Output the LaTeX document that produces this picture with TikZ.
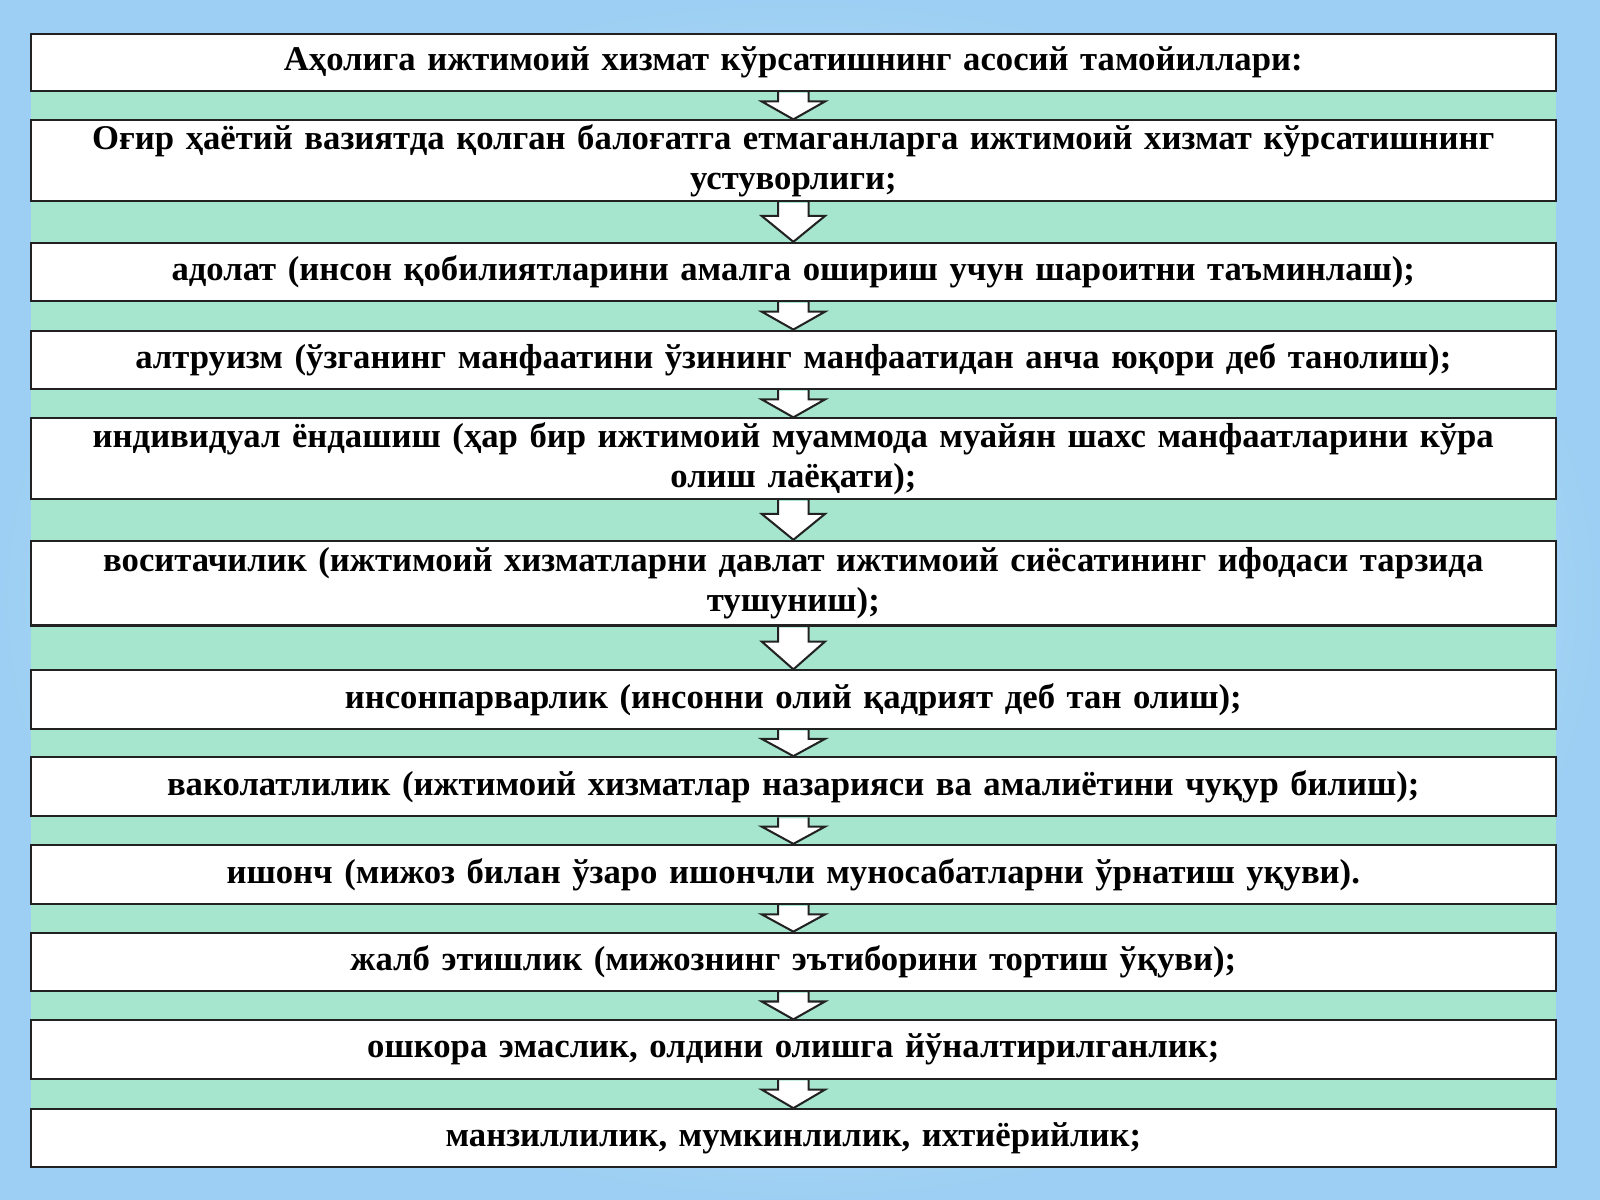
\documentclass[tikz,border=0pt]{standalone}
\usepackage{fontspec}
\setmainfont{Liberation Serif}
\usetikzlibrary{calc}
\definecolor{mint}{HTML}{A6E6CF}
\definecolor{sky}{HTML}{9CCFF3}
\definecolor{edge}{HTML}{222222}
\tikzset{
  box/.style={draw=edge,line width=1pt,fill=white,minimum width=747.5pt,text width=740pt,align=center,inner sep=0pt,
    font=\bfseries\fontsize{17}{19.5}\selectfont},
  arr/.style={draw=edge,line width=1pt,fill=white,line join=miter}
}
\newcommand{\myarr}[2]{%
  \coordinate (m) at ($(#1.south)!0.35!(#2.north)$);
  \fill[white] ($(#1.south)+(-15,1)$) -- ($(m)+(-15,0)$) -- ($(m)+(-31,0)$) -- (#2.north) -- ($(m)+(31,0)$) -- ($(m)+(15,0)$) -- ($(#1.south)+(15,1)$) -- cycle;
  \draw[arr,fill=none] ($(#1.south)+(-15,0)$) -- ($(m)+(-15,0)$) -- ($(m)+(-31,0)$) -- (#2.north) -- ($(m)+(31,0)$) -- ($(m)+(15,0)$) -- ($(#1.south)+(15,0)$);
}
\begin{document}
\begin{tikzpicture}[x=0.5pt,y=-0.5pt]
\useasboundingbox (0,0) rectangle (1568,1176);
\shade[inner color=white,outer color=sky] (0,0) rectangle (1568,1176);
\fill[mint] (30,89) rectangle (1525,1087);
\newcommand{\bx}[4]{\node[box,minimum height={(#3-#2)*0.5pt}] (#1) at (777.5,{(#2+#3)/2}) {#4};}
\bx{b1}{33}{89}{Аҳолига ижтимоий хизмат кўрсатишнинг асосий тамойиллари:}
\bx{b2}{118}{197}{Оғир ҳаётий вазиятда қолган балоғатга етмаганларга ижтимоий хизмат кўрсатишнинг\\ устуворлиги;}
\bx{b3}{238}{295}{адолат (инсон қобилиятларини амалга ошириш учун шароитни таъминлаш);}
\bx{b4}{324}{381}{алтруизм (ўзганинг манфаатини ўзининг манфаатидан анча юқори деб танолиш);}
\bx{b5}{410}{489}{индивидуал ёндашиш (ҳар бир ижтимоий муаммода муайян шахс манфаатларини кўра\\ олиш лаёқати);}
\bx{b6}{530}{613}{воситачилик (ижтимоий хизматларни давлат ижтимоий сиёсатининг ифодаси тарзида\\ тушуниш);}
\bx{b7}{657}{714}{инсонпарварлик (инсонни олий қадрият деб тан олиш);}
\bx{b8}{742}{800}{ваколатлилик (ижтимоий хизматлар назарияси ва амалиётини чуқур билиш);}
\bx{b9}{828}{886}{ишонч (мижоз билан ўзаро ишончли муносабатларни ўрнатиш уқуви).}
\bx{b10}{914}{971}{жалб этишлик (мижознинг эътиборини тортиш ўқуви);}
\bx{b11}{1000}{1057}{ошкора эмаслик, олдини олишга йўналтирилганлик;}
\bx{b12}{1087}{1144}{манзиллилик, мумкинлилик, ихтиёрийлик;}
\foreach \a/\b in {b1/b2,b2/b3,b3/b4,b4/b5,b5/b6,b6/b7,b7/b8,b8/b9,b9/b10,b10/b11,b11/b12}{\myarr{\a}{\b}}
\end{tikzpicture}
\end{document}
